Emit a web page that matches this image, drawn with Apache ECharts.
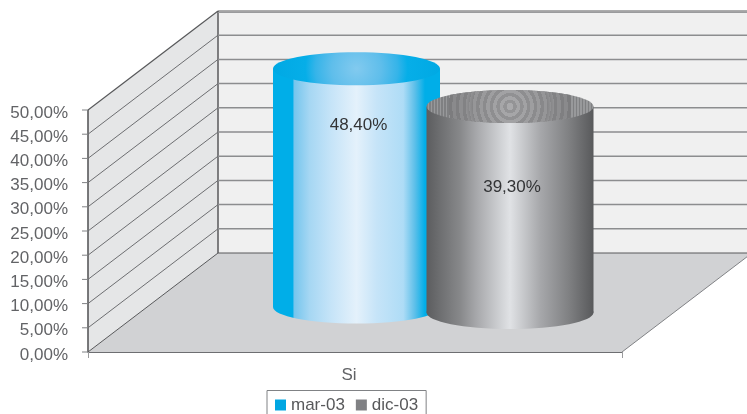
<!DOCTYPE html>
<html><head><meta charset="utf-8">
<style>html,body{margin:0;padding:0;background:#fff}#c{width:747px;height:414px}</style>
<script src="https://cdn.jsdelivr.net/npm/echarts@6/dist/echarts.min.js"></script>
</head><body><div id="c"></div>
<script>
const categories = ['Si'];
const marValues = [48.4];
const dicValues = [39.3];
const tickValues = [0,5,10,15,20,25,30,35,40,45,50];
const seriesNames = ['mar-03','dic-03'];

const FONT = '"Liberation Sans", Arial, sans-serif';
const DEPTH = [130,-99];
const fmt = v => v.toFixed(2).replace('.',',') + '%';

function hGrad(stops){return {type:'linear',x:0,y:0,x2:1,y2:0,colorStops:stops.map(s=>({offset:s[0],color:s[1]}))};}
const blueBody = hGrad([[0,'#00aee8'],[.12,'#00aee8'],[.125,'#74c5ed'],[.22,'#a6d7f3'],[.35,'#c6e4f8'],[.5,'#e4f1fb'],[.62,'#c6e4f8'],[.78,'#aedcf6'],[.85,'#5cbfe9'],[.91,'#00aee8'],[1,'#00aee8']]);
const greyBody = hGrad([[0,'#5c5d5f'],[.2,'#87888a'],[.3,'#a7a8ab'],[.5,'#e0e2e5'],[.68,'#a7a8ab'],[.85,'#808183'],[1,'#58595b']]);
const blueTop = {type:'radial',x:.5,y:.5,r:2.5,colorStops:[{offset:0,color:'#82caef'},{offset:.3,color:'#5fbeeb'},{offset:.5,color:'#35b4e9'},{offset:.62,color:'#06aee8'},{offset:1,color:'#00a9e4'}]};
// fine moire texture of the grey cap
const stripeStops=[];const N=56;
for(let i=0;i<N;i++){stripeStops.push({offset:i/N,color:'#7f8082'},{offset:(i+.55)/N,color:'#7f8082'},{offset:(i+.55)/N,color:'#98999b'},{offset:(i+1)/N,color:'#98999b'});}
const greyStripes={type:'linear',x:0,y:0,x2:1,y2:0,colorStops:stripeStops};
const ringStops=[];const R=9;
for(let i=0;i<R;i++){const f=i/R;const g=170-i*4;
 ringStops.push({offset:f,color:`rgb(${g},${g},${g+2})`},{offset:f+.5/R,color:`rgb(${g},${g},${g+2})`},{offset:f+.5/R,color:`rgb(${148-i*3},${148-i*3},${150-i*3})`},{offset:f+1/R,color:`rgb(${148-i*3},${148-i*3},${150-i*3})`});}
ringStops.push({offset:1,color:'rgba(125,126,128,0)'});
const greyRings={type:'radial',x:.5,y:.5,r:1.85,colorStops:ringStops.map(s=>({offset:Math.min(1,s.offset),color:s.color}))};

function wallsItem(params,api){
  const c=params.coordSys, L=c.x,R2=c.x+c.width,T=c.y,B=c.y+c.height;
  const dx=DEPTH[0],dy=DEPTH[1];
  const poly=(pts,fill)=>({type:'polygon',shape:{points:pts},style:{fill},silent:true});
  const line=(a,b,stroke,w)=>({type:'line',shape:{x1:a[0],y1:a[1],x2:b[0],y2:b[1]},style:{stroke,lineWidth:w},silent:true});
  return {type:'group',children:[
    poly([[L+dx,B+dy],[R2+dx,B+dy],[R2+dx,T+dy],[L+dx,T+dy]],'#f0f0f0'),
    poly([[L,B],[L+dx,B+dy],[L+dx,T+dy],[L,T]],'#e5e6e7'),
    poly([[L,B],[R2,B],[R2+dx,B+dy],[L+dx,B+dy]],'#d1d2d4'),
    line([L,B],[L+dx,B+dy],'#58595b',1),
    line([L,T],[L+dx,T+dy],'#58595b',1.2),
    line([R2,B],[R2+dx,B+dy],'#808285',1),
    line([L+dx,B+dy],[R2+dx,B+dy],'#58595b',1),
    line([L+dx,T+dy],[L+dx,B+dy],'#58595b',1.5),
    line([L,T],[L,B],'#58595b',1.6)
  ]};
}
function gridItem(params,api){
  const c=params.coordSys, v=api.value(0), y=api.coord([0,v])[1];
  const L=c.x,R2=c.x+c.width;
  const dx=DEPTH[0],dy=DEPTH[1];
  const top=v===tickValues[tickValues.length-1];
  const kids=[{type:'line',shape:{x1:L-6,y1:y,x2:L,y2:y},style:{stroke:'#808285',lineWidth:1},silent:true}];
  if(v!==tickValues[0]){
    if(!top) kids.push({type:'line',shape:{x1:L,y1:y,x2:L+dx,y2:y+dy},style:{stroke:'#6d6e71',lineWidth:1},silent:true});
    kids.push({type:'line',shape:{x1:L+dx,y1:y+dy,x2:R2+dx,y2:y+dy},style:{stroke:top?'#58595b':'#8c8d8f',lineWidth:top?1:1.5},silent:true});
    if(top) kids.push({type:'line',shape:{x1:L+dx,y1:y+dy+1.5,x2:R2+dx,y2:y+dy+1.5},style:{stroke:'#9a9b9d',lineWidth:1},silent:true});
  }
  return {type:'group',children:kids};
}
function cylinder(cfg){
  return function(params,api){
    const v=api.value(1);
    const base=api.coord([api.value(0),0]), top=api.coord([api.value(0),v]);
    const cx=base[0]+cfg.dx, by=base[1]+cfg.baseDy, ty=top[1]+cfg.topDy;
    const rx=cfg.rx, ry=cfg.ry;
    const kids=[
      {type:'ellipse',shape:{cx,cy:by,rx,ry:ry},style:{fill:cfg.body}},
      {type:'rect',shape:{x:cx-rx,y:ty,width:rx*2,height:by-ty},style:{fill:cfg.body}}
    ];
    cfg.caps.forEach(f=>kids.push({type:'ellipse',shape:{cx,cy:ty,rx,ry},style:{fill:f}}));
    kids.push({type:'text',x:cx+cfg.labelDx,y:(ty+cfg.labelDy),style:{text:fmt(v),fill:'#333436',font:'17px '+FONT,align:'center',verticalAlign:'middle'}});
    return {type:'group',children:kids};
  };
}
const chart=echarts.init(document.getElementById('c'),null,{renderer:'canvas'});
chart.setOption({
  animation:false,
  backgroundColor:'#fff',
  textStyle:{fontFamily:FONT},
  grid:{left:88,right:125,top:110,bottom:62,containLabel:false},
  legend:{
    data:seriesNames.map(n=>({name:n,icon:'rect'})),
    left:267,top:390.5,orient:'horizontal',
    itemWidth:11,itemHeight:11,itemGap:11,
    padding:[6,8,12,8],
    borderColor:'#808285',borderWidth:1,
    selectedMode:false,
    textStyle:{color:'#58595b',fontSize:17,fontFamily:FONT}
  },
  xAxis:{type:'category',data:categories,z:5,
    axisLine:{lineStyle:{color:'#6d6e71',width:1.2}},
    axisTick:{show:true,length:6,lineStyle:{color:'#9a9b9d',width:1}},
    axisLabel:{color:'#626366',fontSize:17,fontFamily:FONT,margin:15,padding:[0,12,0,0]}
  },
  yAxis:{type:'value',min:0,max:50,interval:5,z:5,
    splitLine:{show:false},
    axisLine:{show:false},
    axisTick:{show:false},
    axisLabel:{color:'#626366',fontSize:17,fontFamily:FONT,margin:20,verticalAlign:'top',lineHeight:6,showMinLabel:true,showMaxLabel:true,
      formatter:fmt}
  },
  series:[
    {type:'custom',name:'walls',z:1,silent:true,coordinateSystem:'cartesian2d',clip:false,renderItem:wallsItem,data:[[0,0]],encode:{x:0,y:1},tooltip:{show:false}},
    {type:'custom',name:'gridlines',z:1.5,silent:true,coordinateSystem:'cartesian2d',clip:false,renderItem:gridItem,dimensions:['v'],data:tickValues.map(v=>[v]),encode:{y:0}},
    {type:'custom',name:seriesNames[0],z:2,coordinateSystem:'cartesian2d',clip:false,itemStyle:{color:'#00a6e2'},
      renderItem:cylinder({dx:1.5,baseDy:-45,topDy:-49,rx:83.5,ry:16.5,body:blueBody,caps:[blueTop],labelDx:2,labelDy:56.5}),
      data:categories.map((c,i)=>[i,marValues[i]]),encode:{x:0,y:1}},
    {type:'custom',name:seriesNames[1],z:3,coordinateSystem:'cartesian2d',clip:false,itemStyle:{color:'#808184'},
      renderItem:cylinder({dx:155,baseDy:-39.5,topDy:-55.3,rx:83.5,ry:16.5,body:greyBody,caps:[greyStripes,greyRings],labelDx:2,labelDy:80.5}),
      data:categories.map((c,i)=>[i,dicValues[i]]),encode:{x:0,y:1}}
  ]
});
</script></body></html>
